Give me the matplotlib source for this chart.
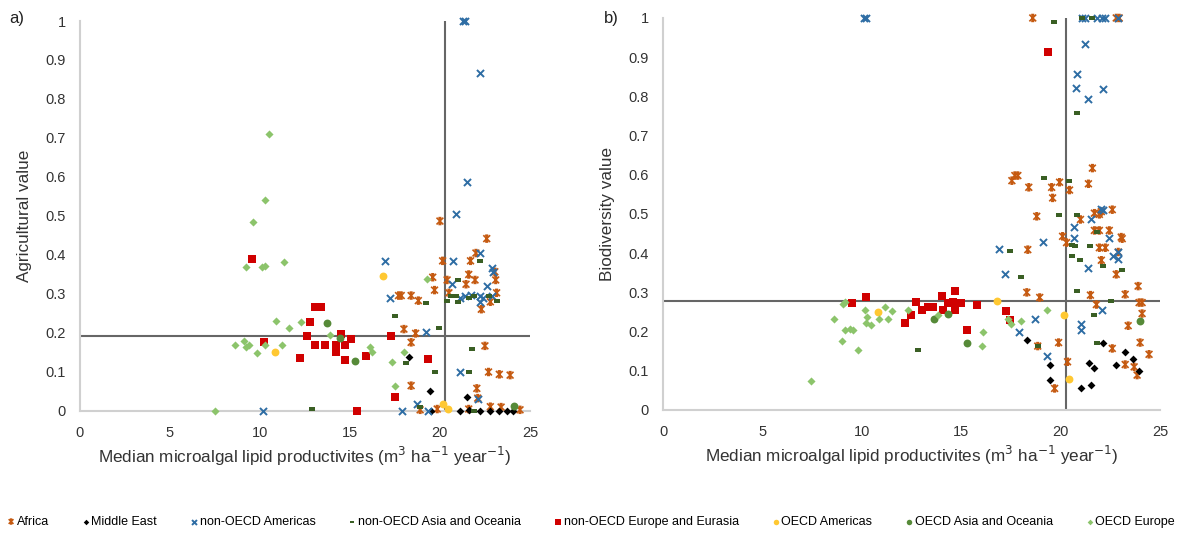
import numpy as np
import matplotlib
matplotlib.use("Agg")
import matplotlib.pyplot as plt
from matplotlib.path import Path

plt.rcParams['font.family'] = ['Liberation Sans', 'DejaVu Sans']

# region names, in legend order
regions = ["Africa", "Middle East", "non-OECD Americas", "non-OECD Asia and Oceania",
           "non-OECD Europe and Eurasia", "OECD Americas", "OECD Asia and Oceania", "OECD Europe"]

# a) agricultural value vs median lipid productivity
af_a_x = [20.0, 22.6, 20.15, 21.7, 22.0, 19.6, 19.7, 20.4, 20.5, 21.6, 21.45, 21.95, 23.05, 23.1, 23.15,
          22.8, 22.3, 17.7, 17.85, 18.4, 18.8, 18.0, 18.65, 18.4, 22.5, 22.7, 23.3, 23.9, 18.4, 22.05,
          22.1, 18.9, 19.85, 21.6, 22.8, 23.4, 24.45]
af_a_y = [0.487, 0.442, 0.385, 0.385, 0.405, 0.343, 0.31, 0.336, 0.303, 0.35, 0.325, 0.336, 0.357, 0.336, 0.303,
          0.28, 0.261, 0.296, 0.296, 0.296, 0.283, 0.21, 0.199, 0.176, 0.167, 0.1, 0.094, 0.092, 0.065, 0.058,
          0.033, 0.003, 0.005, 0.005, 0.011, 0.01, 0.003]
me_a_x = [18.3, 19.45, 21.5, 19.5, 21.1, 21.6, 22.2, 22.8, 23.3, 23.7, 24.05]
me_a_y = [0.138, 0.052, 0.035, 0.0, 0.0, 0.002, 0.0, 0.0, 0.0, 0.0, 0.0]
na_a_x = [21.3, 21.4, 22.25, 21.5, 20.9, 16.95, 20.7, 22.2, 22.9, 22.95, 22.6, 20.65, 17.25, 21.1, 21.4,
          21.75, 22.2, 22.2, 22.4, 22.9, 19.2, 21.1, 22.1, 18.75, 17.9, 19.35, 10.15]
na_a_y = [1.0, 1.0, 0.867, 0.588, 0.505, 0.385, 0.385, 0.406, 0.366, 0.357, 0.32, 0.325, 0.289, 0.289, 0.295,
          0.297, 0.295, 0.28, 0.289, 0.296, 0.203, 0.1, 0.03, 0.017, 0.0, 0.0, 0.0]
nas_a_x = [19.2, 21.0, 22.2, 20.4, 20.6, 20.9, 21.6, 21.9, 22.7, 23.15, 21.0, 17.5, 19.95, 21.8, 18.1,
           19.7, 21.6, 12.9, 18.9, 21.9]
nas_a_y = [0.278, 0.336, 0.385, 0.282, 0.296, 0.296, 0.291, 0.296, 0.295, 0.282, 0.28, 0.244, 0.214, 0.16, 0.122,
           0.1, 0.099, 0.005, 0.011, 0.0]
ne_a_x = [9.55, 10.2, 12.2, 12.6, 12.8, 13.05, 13.4, 13.05, 13.6, 14.2, 14.2, 14.5, 14.7, 14.7, 15.05,
          15.9, 17.3, 19.35, 17.5, 15.4]
ne_a_y = [0.39, 0.178, 0.137, 0.193, 0.229, 0.267, 0.267, 0.17, 0.17, 0.17, 0.152, 0.197, 0.17, 0.131, 0.185,
          0.141, 0.193, 0.133, 0.037, 0.0]
oa_a_x = [10.85, 16.85, 20.15, 20.45]
oa_a_y = [0.15, 0.347, 0.018, 0.004]
oas_a_x = [13.7, 14.45, 15.3, 24.1]
oas_a_y = [0.226, 0.187, 0.127, 0.013]
oe_a_x = [7.5, 10.5, 10.3, 9.6, 9.2, 10.1, 10.3, 11.35, 10.9, 11.6, 12.3, 8.6, 9.1, 9.2, 9.4,
          9.85, 10.3, 11.2, 13.9, 16.1, 16.2, 17.35, 18.0, 17.5, 19.3]
oe_a_y = [0.0, 0.71, 0.54, 0.485, 0.37, 0.37, 0.372, 0.383, 0.231, 0.212, 0.229, 0.17, 0.18, 0.165, 0.17,
          0.148, 0.17, 0.17, 0.195, 0.165, 0.15, 0.126, 0.152, 0.065, 0.338]

# b) biodiversity value vs median lipid productivity
af_b_x = [21.6, 17.7, 17.85, 17.55, 18.4, 19.55, 19.95, 20.45, 19.6, 21.4, 18.8, 21.0, 21.7, 21.95, 22.05,
          22.6, 21.7, 21.95, 22.45, 23.05, 23.1, 20.1, 20.3, 18.35, 21.95, 22.25, 22.9, 22.05, 22.8, 18.3,
          18.95, 21.5, 21.8, 23.25, 23.9, 23.95, 24.1, 24.1, 23.4, 19.9, 18.85, 22.6, 24.0, 24.45, 20.35,
          23.25, 23.7, 23.85, 19.7, 18.6, 22.8, 22.95]
af_b_y = [0.617, 0.598, 0.598, 0.585, 0.568, 0.568, 0.581, 0.561, 0.541, 0.577, 0.494, 0.486, 0.502, 0.499, 0.506,
          0.511, 0.458, 0.458, 0.458, 0.441, 0.437, 0.443, 0.427, 0.409, 0.414, 0.414, 0.403, 0.382, 0.346, 0.3,
          0.287, 0.293, 0.269, 0.295, 0.316, 0.274, 0.274, 0.246, 0.215, 0.172, 0.163, 0.157, 0.172, 0.142, 0.123,
          0.116, 0.11, 0.089, 0.055, 1.0, 1.0, 1.0]
me_b_x = [18.3, 19.45, 19.45, 21.05, 21.55, 21.45, 21.7, 22.15, 22.8, 23.25, 23.65, 23.95]
me_b_y = [0.178, 0.116, 0.076, 0.057, 0.064, 0.12, 0.106, 0.17, 0.116, 0.147, 0.131, 0.1]
na_b_x = [10.1, 10.2, 21.1, 21.25, 21.85, 22.1, 22.25, 22.9, 21.25, 20.85, 20.8, 22.15, 21.4, 22.05, 22.15,
          21.55, 20.65, 20.65, 22.45, 19.1, 22.9, 22.65, 22.9, 21.4, 17.2, 16.9, 22.1, 18.7, 21.05, 21.05,
          17.9, 19.3]
na_b_y = [1.0, 1.0, 1.0, 1.0, 1.0, 1.0, 1.0, 1.0, 0.933, 0.858, 0.821, 0.82, 0.793, 0.513, 0.509,
          0.488, 0.468, 0.439, 0.439, 0.428, 0.403, 0.394, 0.386, 0.362, 0.348, 0.411, 0.256, 0.232, 0.22, 0.204,
          0.199, 0.138]
nas_b_x = [19.65, 21.1, 21.6, 20.85, 19.15, 20.4, 19.9, 20.85, 21.85, 20.55, 20.75, 21.5, 20.55, 21.0, 22.15,
           23.1, 17.45, 18.0, 20.85, 22.55, 21.7, 21.85, 18.85, 12.85]
nas_b_y = [0.99, 1.0, 1.0, 0.757, 0.592, 0.585, 0.498, 0.498, 0.455, 0.422, 0.419, 0.419, 0.393, 0.382, 0.368,
           0.356, 0.405, 0.339, 0.304, 0.278, 0.242, 0.172, 0.164, 0.153]
ne_b_x = [9.5, 10.2, 12.15, 12.5, 12.75, 13.05, 13.35, 13.6, 14.05, 14.7, 14.1, 14.35, 14.6, 14.7, 15.0,
          15.8, 15.3, 17.25, 17.45, 19.35]
ne_b_y = [0.273, 0.287, 0.223, 0.242, 0.276, 0.254, 0.263, 0.263, 0.291, 0.304, 0.256, 0.273, 0.276, 0.254, 0.273,
          0.267, 0.204, 0.252, 0.229, 0.914]
oa_b_x = [10.8, 16.8, 20.15, 20.4]
oa_b_y = [0.25, 0.277, 0.242, 0.078]
oas_b_x = [13.65, 14.35, 15.3, 24.0]
oas_b_y = [0.231, 0.246, 0.172, 0.226]
oe_b_x = [7.45, 8.6, 9.05, 9.15, 9.15, 9.4, 9.55, 9.0, 9.8, 10.15, 10.25, 10.2, 10.45, 11.15, 11.5,
          10.85, 11.3, 12.3, 13.85, 16.1, 16.05, 17.35, 17.5, 18.0, 19.3]
oe_b_y = [0.074, 0.232, 0.27, 0.276, 0.204, 0.206, 0.204, 0.176, 0.154, 0.254, 0.237, 0.222, 0.216, 0.263, 0.252,
          0.231, 0.232, 0.254, 0.242, 0.198, 0.163, 0.233, 0.22, 0.226, 0.256]

# medians used for the quadrant lines
med_a = (20.3, 0.193)
med_b = (20.25, 0.279)

# star-like cross used for Africa
star = Path([(-1, -1), (1, 1), (-1, 1), (1, -1), (0, -1), (0, 1), (-0.45, 1), (0.45, 1), (-0.45, -1), (0.45, -1)],
            [Path.MOVETO, Path.LINETO, Path.MOVETO, Path.LINETO, Path.MOVETO, Path.LINETO,
             Path.MOVETO, Path.LINETO, Path.MOVETO, Path.LINETO])
dash = [(-1, -0.5), (1, -0.5), (1, 0.5), (-1, 0.5)]

styles = [
    dict(marker=star, facecolors="none", edgecolors="#C55A11", s=24, linewidths=1.2),
    dict(marker="D", color="black", s=16, linewidths=0),
    dict(marker="x", color="#2E6DA4", s=26, linewidths=1.4),
    dict(marker=dash, color="#3A5F24", s=20, linewidths=0),
    dict(marker="s", color="#D00000", s=32, linewidths=0),
    dict(marker="o", color="#FFC832", s=32, linewidths=0),
    dict(marker="o", color="#568A38", s=32, linewidths=0),
    dict(marker="D", color="#8CC46B", s=17, linewidths=0),
]

data_a = [(af_a_x, af_a_y), (me_a_x, me_a_y), (na_a_x, na_a_y), (nas_a_x, nas_a_y),
          (ne_a_x, ne_a_y), (oa_a_x, oa_a_y), (oas_a_x, oas_a_y), (oe_a_x, oe_a_y)]
data_b = [(af_b_x, af_b_y), (me_b_x, me_b_y), (na_b_x, na_b_y), (nas_b_x, nas_b_y),
          (ne_b_x, ne_b_y), (oa_b_x, oa_b_y), (oas_b_x, oas_b_y), (oe_b_x, oe_b_y)]

fig = plt.figure(figsize=(11.81, 5.33), dpi=100)
ax_a = fig.add_axes([0.0677, 0.2289, 0.381, 0.7317])
ax_b = fig.add_axes([0.5614, 0.2308, 0.4208, 0.7355])

xlabel = "Median microalgal lipid productivites (m$^3$ ha$^{-1}$ year$^{-1}$)"

def draw(ax, data, med, ylabel):
    handles = []
    for (xs, ys), name, st in zip(data, regions, styles):
        h = ax.scatter(xs, ys, label=name, clip_on=False, zorder=3, **st)
        handles.append(h)
    ax.plot([0, 25], [med[1], med[1]], color="#666666", lw=1.5, zorder=2)
    ax.plot([med[0], med[0]], [0, 1], color="#666666", lw=1.5, zorder=2)
    ax.set_xlim(0, 25)
    ax.set_ylim(0, 1)
    ax.set_xticks([0, 5, 10, 15, 20, 25])
    ax.set_yticks(np.arange(0, 1.01, 0.1))
    ax.set_yticklabels(["0", "0.1", "0.2", "0.3", "0.4", "0.5", "0.6", "0.7", "0.8", "0.9", "1"])
    ax.tick_params(length=0, labelsize=10.5, colors="#333333")
    ax.tick_params(axis="x", pad=11)
    ax.tick_params(axis="y", pad=10)
    for side in ["top", "right"]:
        ax.spines[side].set_visible(False)
    for side in ["left", "bottom"]:
        ax.spines[side].set_color("#D0D0D0")
        ax.spines[side].set_linewidth(1.5)
    ax.set_xlabel(xlabel, fontsize=12.3, color="#333333", labelpad=3)
    ax.set_ylabel(ylabel, fontsize=12.3, color="#333333", labelpad=10)
    return handles

handles = draw(ax_a, data_a, med_a, "Agricultural value")
draw(ax_b, data_b, med_b, "Biodiversity value")

fig.text(0.008, 0.965, "a)", fontsize=12, color="#222222", va="center")
fig.text(0.511, 0.965, "b)", fontsize=12, color="#222222", va="center")

fig.legend(handles=handles, loc="center", bbox_to_anchor=(0.5, 0.021), ncol=8, frameon=False,
           fontsize=9, handletextpad=0.05, columnspacing=2.55, markerscale=0.7, handlelength=0.8,
           borderaxespad=0)

fig.savefig("out.png", dpi=100)
